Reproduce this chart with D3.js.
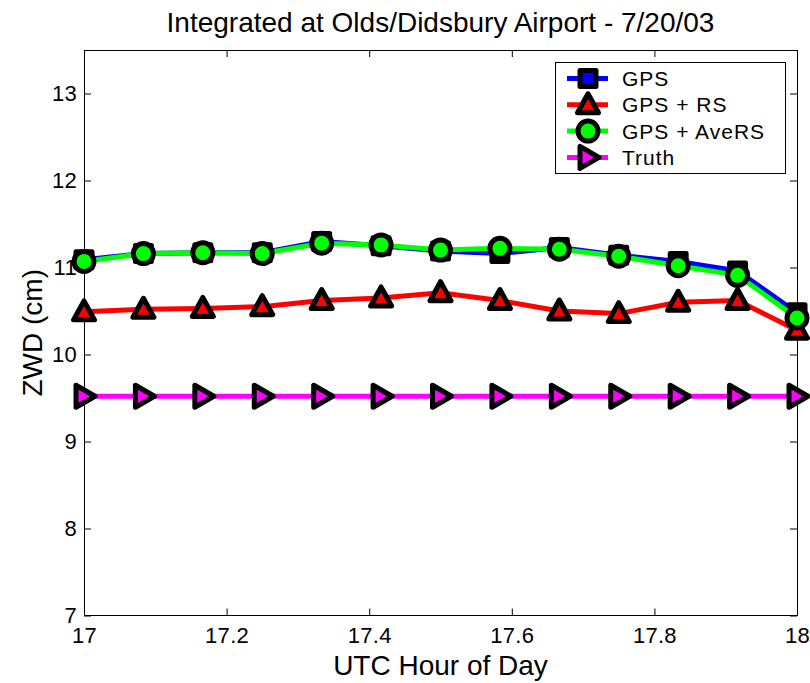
<!DOCTYPE html>
<html>
<head>
<meta charset="utf-8">
<script src="https://cdn.jsdelivr.net/npm/d3@7"></script>
<style>
  body { margin: 0; background: #fff; }
  text { font-family: "Liberation Sans", Arial, sans-serif; fill: #000; }
</style>
</head>
<body>
<div id="chart"></div>
<script>
// data
var hours = [17, 17 + 1/12, 17 + 2/12, 17.25, 17 + 4/12, 17 + 5/12, 17.5,
             17 + 7/12, 17 + 8/12, 17.75, 17 + 10/12, 17 + 11/12, 18];
var gps      = [11.09, 11.16, 11.17, 11.17, 11.30, 11.25, 11.19, 11.16, 11.23, 11.14, 11.07, 10.96, 10.48];
var gpsRs    = [10.49, 10.52, 10.53, 10.55, 10.62, 10.65, 10.71, 10.62, 10.50, 10.47, 10.60, 10.62, 10.28];
var gpsAveRs = [11.07, 11.16, 11.17, 11.16, 11.28, 11.26, 11.20, 11.22, 11.21, 11.13, 11.02, 10.91, 10.42];
var truth    = [9.52, 9.52, 9.52, 9.52, 9.52, 9.52, 9.52, 9.52, 9.52, 9.52, 9.52, 9.52, 9.52];
var seriesNames = ["GPS", "GPS + RS", "GPS + AveRS", "Truth"];
var xTicks = [17, 17.2, 17.4, 17.6, 17.8, 18];
var yTicks = [7, 8, 9, 10, 11, 12, 13];

var svgWidth = 810, svgHeight = 683;
var plotLeft = 84, plotRight = 797, plotTop = 50, plotBottom = 615.5;

var svg = d3.select("#chart").append("svg")
    .attr("width", svgWidth)
    .attr("height", svgHeight);

var x = d3.scaleLinear().domain([17, 18]).range([plotLeft, plotRight]);
var y = d3.scaleLinear().domain([7, 13.5]).range([plotBottom, plotTop]);

var fmt = function(d) { return String(+d.toFixed(1)); };

// axes, MATLAB style: ticks pointing inward on all four sides
var gx = svg.append("g")
    .attr("transform", `translate(0, ${plotBottom})`)
    .call(d3.axisBottom(x).tickValues(xTicks).tickFormat(fmt).tickSizeInner(-7).tickSizeOuter(0).tickPadding(12));
var gy = svg.append("g")
    .attr("transform", `translate(${plotLeft}, 0)`)
    .call(d3.axisLeft(y).tickValues(yTicks).tickFormat(fmt).tickSizeInner(-7).tickSizeOuter(0).tickPadding(7));
var gxt = svg.append("g")
    .attr("transform", `translate(0, ${plotTop})`)
    .call(d3.axisTop(x).tickValues(xTicks).tickFormat("").tickSizeInner(-7).tickSizeOuter(0));
var gyr = svg.append("g")
    .attr("transform", `translate(${plotRight}, 0)`)
    .call(d3.axisRight(y).tickValues(yTicks).tickFormat("").tickSizeInner(-7).tickSizeOuter(0));

[gx, gy, gxt, gyr].forEach(function(g) {
  g.select(".domain").remove();
  g.selectAll("line").attr("stroke", "#000");
  g.selectAll("text")
    .style("font-family", "'Liberation Sans', Arial, sans-serif")
    .style("font-size", "22px")
    .style("letter-spacing", "0.3px")
    .attr("fill", "#000");
});

svg.append("rect")
    .attr("x", plotLeft)
    .attr("y", plotTop)
    .attr("width", plotRight - plotLeft)
    .attr("height", plotBottom - plotTop)
    .attr("fill", "none")
    .attr("stroke", "#000")
    .attr("stroke-width", 1)
    .attr("shape-rendering", "crispEdges");

// marker shapes
function marker(sel, kind, fill) {
  var m;
  if (kind === "square") {
    m = sel.append("rect").attr("x", -8).attr("y", -8).attr("width", 16).attr("height", 16);
  } else if (kind === "triUp") {
    m = sel.append("path").attr("d", "M0,-11L10.5,8L-10.5,8Z");
  } else if (kind === "circle") {
    m = sel.append("circle").attr("r", 10);
  } else {
    m = sel.append("path").attr("d", "M11,0L-8,-11L-8,11Z");
  }
  m.attr("fill", fill)
    .attr("stroke", "#000")
    .attr("stroke-width", 5)
    .attr("stroke-linejoin", "round");
}

var series = [
  { name: seriesNames[0], values: gps, color: "#0000ff", kind: "square" },
  { name: seriesNames[1], values: gpsRs, color: "#ff0000", kind: "triUp" },
  { name: seriesNames[2], values: gpsAveRs, color: "#00ff00", kind: "circle" },
  { name: seriesNames[3], values: truth, color: "#ff00ff", kind: "triRight" }
];

var line = d3.line()
    .x(function(d, i) { return x(hours[i]); })
    .y(function(d) { return y(d); });

series.forEach(function(s) {
  var g = svg.append("g");
  g.append("path")
      .attr("d", line(s.values))
      .attr("fill", "none")
      .attr("stroke", s.color)
      .attr("stroke-width", 5);
  g.selectAll("g.pt")
    .data(s.values)
    .enter()
    .append("g")
      .attr("class", "pt")
      .attr("transform", function(d, i) { return `translate(${x(hours[i])}, ${y(d)})`; })
      .each(function() { marker(d3.select(this), s.kind, s.color); });
});

// legend
var legend = svg.append("g");
legend.append("rect")
    .attr("x", 555.5)
    .attr("y", 62.5)
    .attr("width", 230)
    .attr("height", 111)
    .attr("fill", "#fff")
    .attr("stroke", "#000")
    .attr("stroke-width", 1);

series.forEach(function(s, i) {
  var cy = 78.5 + i * 26.3;
  legend.append("line")
      .attr("x1", 567).attr("x2", 608)
      .attr("y1", cy).attr("y2", cy)
      .attr("stroke", s.color)
      .attr("stroke-width", 5);
  var mg = legend.append("g").attr("transform", `translate(588, ${cy})`);
  marker(mg, s.kind, s.color);
  legend.append("text")
      .attr("x", 622)
      .attr("y", cy)
      .attr("dy", "0.36em")
      .style("font-size", "21px")
      .style("letter-spacing", "1px")
      .text(s.name);
});

// title and axis labels
svg.append("text")
    .attr("x", (plotLeft + plotRight) / 2)
    .attr("y", 32)
    .attr("text-anchor", "middle")
    .style("font-size", "28px")
    .text("Integrated at Olds/Didsbury Airport - 7/20/03");

svg.append("text")
    .attr("x", (plotLeft + plotRight) / 2)
    .attr("y", 675)
    .attr("text-anchor", "middle")
    .style("font-size", "28px")
    .text("UTC Hour of Day");

svg.append("text")
    .attr("transform", `translate(42, ${(plotTop + plotBottom) / 2}) rotate(-90)`)
    .attr("text-anchor", "middle")
    .style("font-size", "28px")
    .text("ZWD (cm)");
</script>
</body>
</html>
